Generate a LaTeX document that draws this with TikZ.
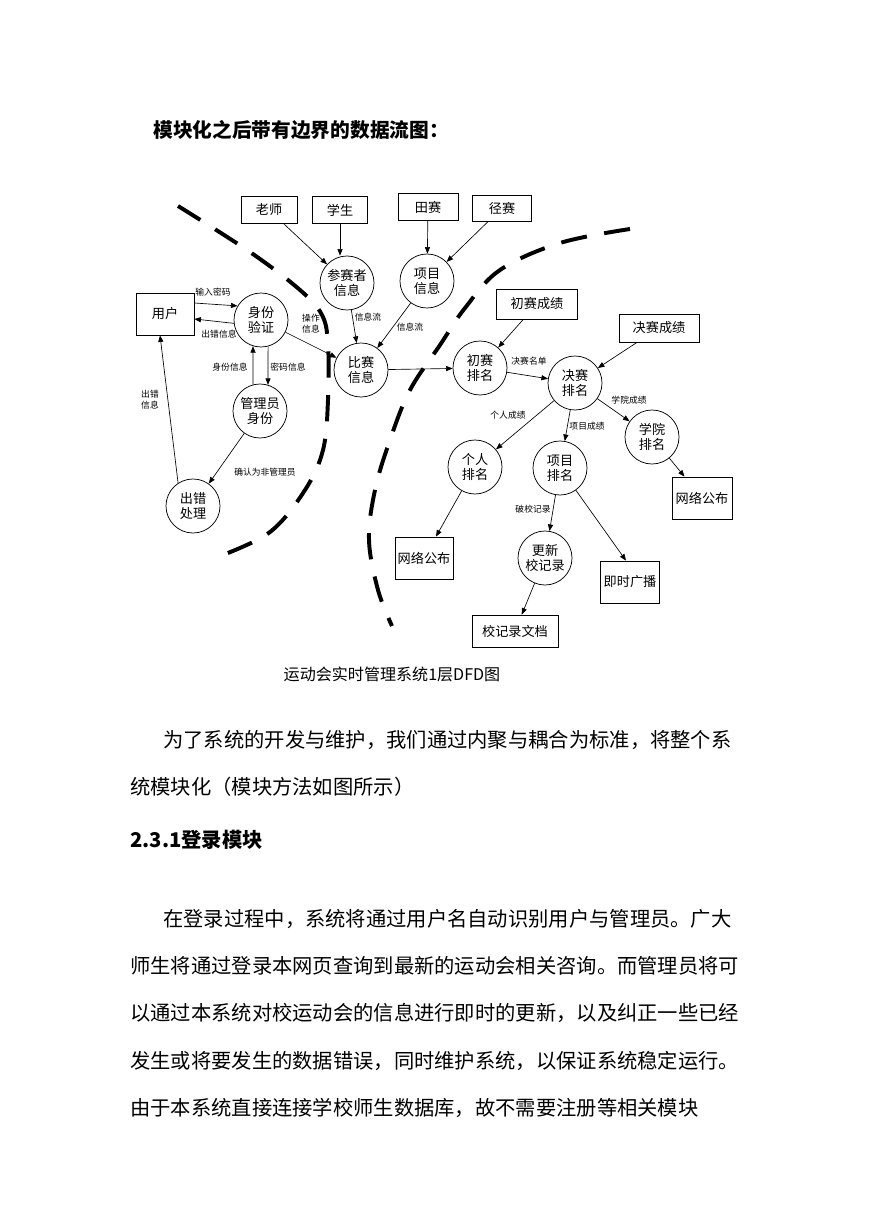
\documentclass[tikz,border=0pt]{standalone}
\usepackage{fontspec}
\newfontfamily\cjk{Noto Sans CJK SC}
\usetikzlibrary{arrows.meta,calc}
\begin{document}
\begin{tikzpicture}[x=0.685pt,y=-0.685pt,
  proc/.style={circle,draw,line width=0.5pt,minimum size=37pt,inner sep=0pt,align=center,font=\cjk\fontsize{9}{10.5}\selectfont},
  ent/.style={rectangle,draw,line width=0.5pt,inner sep=0pt,align=center,font=\cjk\fontsize{9}{11}\selectfont},
  flow/.style={-{Triangle[length=4.5pt,width=3.5pt]}, line width=0.45pt},
  lbl/.style={font=\cjk\fontsize{6}{7.5}\selectfont, inner sep=0pt, align=center},
  bound/.style={line width=2.7pt, dash pattern=on 18pt off 12pt},
  body/.style={anchor=west, inner sep=0pt, font=\cjk\fontsize{13.9}{16}\selectfont}
]
\useasboundingbox (0,0) rectangle (869,1228);

% ---------- texts ----------
\node[anchor=west, inner sep=0pt, font=\cjk\bfseries\fontsize{13.5}{16}\selectfont] (title) at (153,130) {模块化之后带有边界的数据流图：};
\node[inner sep=0pt, font=\cjk\fontsize{11}{13}\selectfont] (caption) at (392,674) {运动会实时管理系统1层DFD图};
\node[body] (p1a) at (163,740) {为了系统的开发与维护，我们通过内聚与耦合为标准，将整个系};
\node[body] (p1b) at (130,787) {统模块化（模块方法如图所示）};
\node[body, font=\cjk\bfseries\fontsize{13.9}{16}\selectfont] (h231) at (130,840) {2.3.1登录模块};
\node[body] (p2a) at (163,919) {在登录过程中，系统将通过用户名自动识别用户与管理员。广大};
\node[body] (p2b) at (130,966) {师生将通过登录本网页查询到最新的运动会相关咨询。而管理员将可};
\node[body] (p2c) at (130,1013) {以通过本系统对校运动会的信息进行即时的更新，以及纠正一些已经};
\node[body] (p2d) at (130,1061) {发生或将要发生的数据错误，同时维护系统，以保证系统稳定运行。};
\node[body] (p2e) at (130,1108) {由于本系统直接连接学校师生数据库，故不需要注册等相关模块};

% ---------- boundaries ----------
\draw[bound] plot[smooth, tension=0.6] coordinates {(178,206) (250,252) (300,290) (322,315) (328,345) (328,400) (323,450) (305,490) (270,532) (220,556)};
\draw[bound] plot[smooth, tension=0.6] coordinates {(630,229) (560,243) (500,270) (465,308) (440,345) (410,390) (390,440) (375,490) (369,540) (378,590) (392,626)};

% ---------- external entities ----------
\node[ent, minimum width=38.4pt, minimum height=18.5pt] (teacher) at (269,210) {老师};
\node[ent, minimum width=37.7pt, minimum height=18.5pt] (student) at (340,210) {学生};
\node[ent, minimum width=41.1pt, minimum height=18.5pt] (tiansai) at (428,207) {田赛};
\node[ent, minimum width=40.4pt, minimum height=17.8pt] (jingsai) at (502,208) {径赛};
\node[ent, minimum width=39.7pt, minimum height=28.8pt] (user) at (165,314) {用户};
\node[ent, minimum width=55.5pt, minimum height=20.6pt] (csj) at (537,304) {初赛成绩};
\node[ent, minimum width=54.8pt, minimum height=19.2pt] (jsj) at (659,328) {决赛成绩};
\node[ent, minimum width=41.1pt, minimum height=28.8pt] (wlR) at (702,498) {网络公布};
\node[ent, minimum width=39.7pt, minimum height=28.8pt] (wlL) at (424,558) {网络公布};
\node[ent, minimum width=40.4pt, minimum height=28.8pt] (jsgb) at (630,582) {即时广播};
\node[ent, minimum width=58.9pt, minimum height=21.9pt] (xjlwd) at (515,631) {校记录文档};

% ---------- processes ----------
\node[proc] (auth) at (261,320) {身份\\验证};
\node[proc] (cszxx) at (347,283) {参赛者\\信息};
\node[proc] (xmxx) at (427,281) {项目\\信息};
\node[proc] (bsxx) at (361,370) {比赛\\信息};
\node[proc] (cspm) at (480,368) {初赛\\排名};
\node[proc] (jspm) at (575,383) {决赛\\排名};
\node[proc] (xypm) at (652,437) {学院\\排名};
\node[proc] (grpm) at (475,467) {个人\\排名};
\node[proc] (xmpm) at (560,468) {项目\\排名};
\node[proc] (gxjl) at (545,558) {更新\\校记录};
\node[proc] (admin) at (260,411) {管理员\\身份};
\node[proc] (ccl) at (193,506) {出错\\处理};

% ---------- flows ----------
\draw[flow] (teacher) -- (cszxx);
\draw[flow] (student.south) -- (student.south |- cszxx.north);
\draw[flow] (tiansai) -- (xmxx);
\draw[flow] (jingsai) -- (xmxx);
\draw[flow] (cszxx) -- (bsxx);
\draw[flow] (xmxx) -- (bsxx);
\draw[flow] (auth) -- (bsxx);
\draw[flow] (bsxx) -- (cspm);
\draw[flow] (csj) -- (cspm);
\draw[flow] (cspm) -- (jspm);
\draw[flow] (jsj) -- (jspm);
\draw[flow] (jspm) -- (xypm);
\draw[flow] (jspm) -- (grpm);
\draw[flow] (jspm) -- (xmpm);
\draw[flow] (xypm) -- (wlR);
\draw[flow] (grpm) -- (wlL);
\draw[flow] (xmpm) -- (gxjl);
\draw[flow] (xmpm) -- ($(jsgb.north)+(-4,0)$);
\draw[flow] (gxjl) -- (xjlwd);
\draw[flow] ($(user.east)+(0,-11)$) -- (auth.149);
\draw[flow] (auth.187) -- ($(user.east)+(0,5)$);
\draw[flow] (admin.105) -- (auth.253);
\draw[flow] (auth.285) -- (admin.73);
\draw[flow] (admin) -- (ccl);
\draw[flow] (ccl.123) -- ($(user.south)+(-5,0)$);

% ---------- flow labels ----------
\node[lbl] (l1) at (213,292) {输入密码};
\node[lbl] (l2) at (219,334) {出错信息};
\node[lbl] (l3) at (311,324) {操作\\信息};
\node[lbl] (l4) at (368,317) {信息流};
\node[lbl] (l5) at (410,327) {信息流};
\node[lbl] (l6) at (230,367) {身份信息};
\node[lbl] (l7) at (288,367) {密码信息};
\node[lbl] (l8) at (150,400) {出错\\信息};
\node[lbl] (l9) at (265,472) {确认为非管理员};
\node[lbl] (l10) at (529,361) {决赛名单};
\node[lbl] (l11) at (629,400) {学院成绩};
\node[lbl] (l12) at (508,415) {个人成绩};
\node[lbl] (l13) at (587,426) {项目成绩};
\node[lbl] (l14) at (533,509) {破校记录};
\end{tikzpicture}
\end{document}
